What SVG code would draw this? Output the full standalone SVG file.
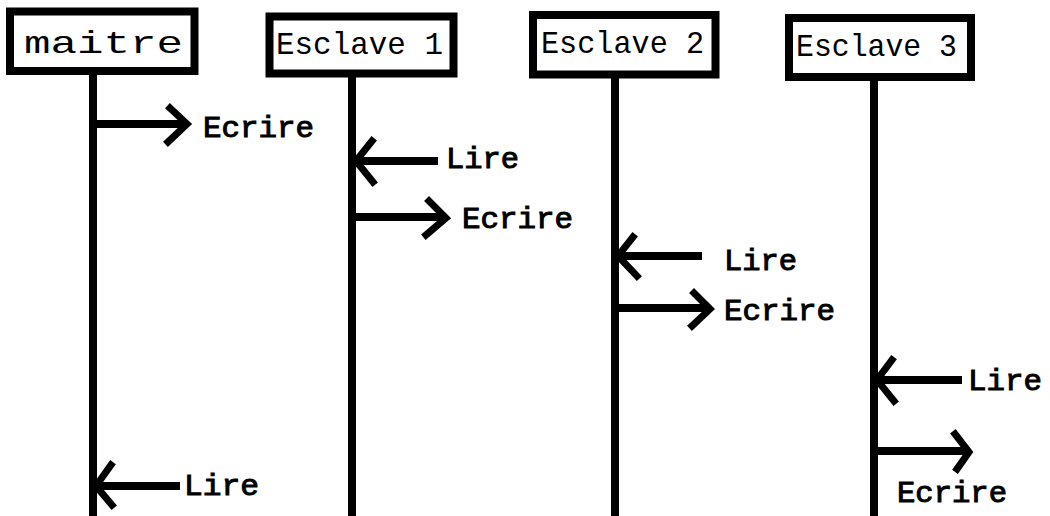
<svg xmlns="http://www.w3.org/2000/svg" width="1050" height="516" viewBox="0 0 1050 516">
<style>
.box{fill:#fff;stroke:#000;stroke-width:8}
.life{stroke:#000;stroke-width:8;fill:none}
.msg{stroke:#000;stroke-width:8;fill:none}
.head{stroke:#000;stroke-width:7;fill:none;stroke-linejoin:miter;stroke-linecap:square}
.title{font-family:"Liberation Mono","Courier New",monospace;font-size:32px;fill:#000}
.lbl{font-family:"Liberation Mono","Courier New",monospace;font-size:29px;fill:#000;stroke:#000;stroke-width:1}
</style>
<rect width="1050" height="516" fill="#fff"/>
<g id="connectors">
  <line class="life" x1="93" y1="71" x2="93" y2="516"/>
  <line class="life" x1="352" y1="74" x2="352" y2="516"/>
  <line class="life" x1="615" y1="75" x2="615" y2="516"/>
  <line class="life" x1="874" y1="77" x2="874" y2="516"/>
  <line class="msg" x1="93" y1="124" x2="186" y2="124"/>
  <path class="head" d="M170,108 L187,124 L168,142"/>
  <line class="msg" x1="352" y1="161" x2="438" y2="161"/>
  <path class="head" d="M372,141 L356,161 L373,182"/>
  <line class="msg" x1="352" y1="217" x2="445" y2="217"/>
  <path class="head" d="M429,201 L446,218 L426,235"/>
  <line class="msg" x1="615" y1="256" x2="702" y2="256"/>
  <path class="head" d="M633,237 L618,256 L637,276"/>
  <line class="msg" x1="615" y1="308" x2="709" y2="308"/>
  <path class="head" d="M694,293 L710,309 L692,326"/>
  <line class="msg" x1="874" y1="380" x2="962" y2="380"/>
  <path class="head" d="M892,360 L877,380 L894,401"/>
  <line class="msg" x1="874" y1="451" x2="968" y2="451"/>
  <path class="head" d="M955,434 L969,452 L957,469"/>
  <line class="msg" x1="93" y1="486" x2="180" y2="486"/>
  <path class="head" d="M111,465 L96,486 L112,505"/>
</g>
<g id="node-maitre">
  <rect class="box" x="10" y="11.5" width="184.5" height="59.5"/>
  <text class="title" x="24" y="53" textLength="159" lengthAdjust="spacingAndGlyphs" font-size="38">maitre</text>
</g>
<g id="node-esclave1">
  <rect class="box" x="269.5" y="16.5" width="184" height="57"/>
  <text class="title" x="276" y="54" textLength="167" lengthAdjust="spacingAndGlyphs">Esclave 1</text>
</g>
<g id="node-esclave2">
  <rect class="box" x="533" y="15" width="182.5" height="59.5"/>
  <text class="title" x="541" y="53" textLength="163" lengthAdjust="spacingAndGlyphs">Esclave 2</text>
</g>
<g id="node-esclave3">
  <rect class="box" x="789" y="18" width="182" height="59"/>
  <text class="title" x="796" y="56" textLength="161" lengthAdjust="spacingAndGlyphs">Esclave 3</text>
</g>
<g id="labels">
  <text class="lbl" x="203" y="137" textLength="111" lengthAdjust="spacingAndGlyphs">Ecrire</text>
  <text class="lbl" x="446" y="168" textLength="73" lengthAdjust="spacingAndGlyphs">Lire</text>
  <text class="lbl" x="462" y="228" textLength="111" lengthAdjust="spacingAndGlyphs">Ecrire</text>
  <text class="lbl" x="724" y="270" textLength="73" lengthAdjust="spacingAndGlyphs">Lire</text>
  <text class="lbl" x="724" y="320" textLength="111" lengthAdjust="spacingAndGlyphs">Ecrire</text>
  <text class="lbl" x="968" y="390" textLength="74" lengthAdjust="spacingAndGlyphs">Lire</text>
  <text class="lbl" x="897" y="502" textLength="110" lengthAdjust="spacingAndGlyphs">Ecrire</text>
  <text class="lbl" x="184" y="495" textLength="75" lengthAdjust="spacingAndGlyphs">Lire</text>
</g>
</svg>
